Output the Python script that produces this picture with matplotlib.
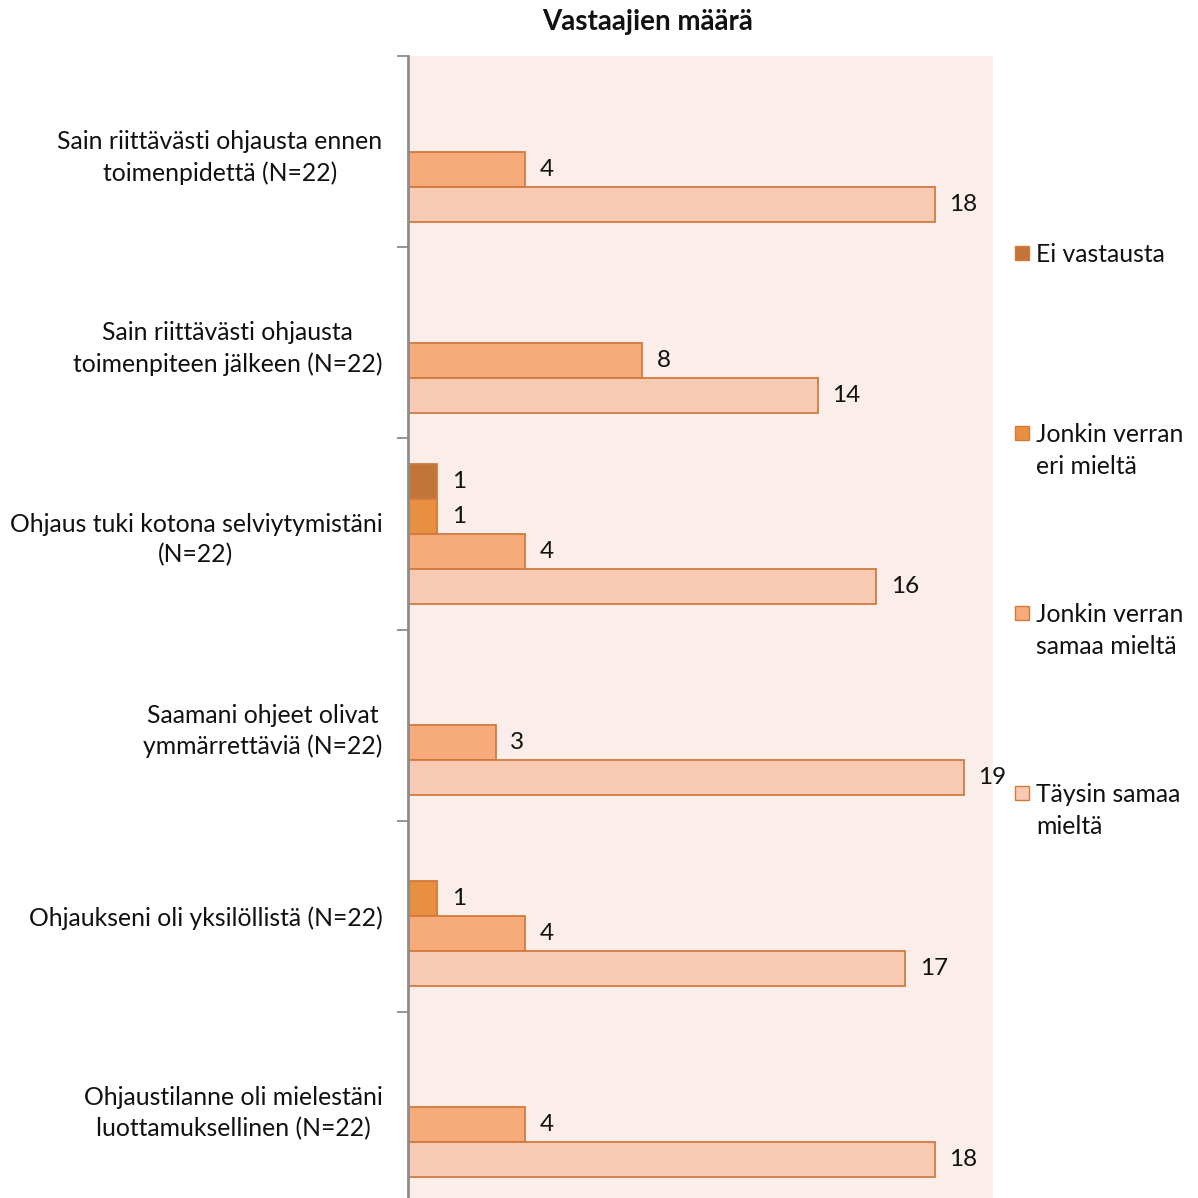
import matplotlib
matplotlib.use("Agg")
import matplotlib.pyplot as plt
from matplotlib.patches import Rectangle
import numpy as np

plt.rcParams['font.family'] = ['Lato', 'DejaVu Sans']

# data
categories = ["Sain riittävästi ohjausta ennen\ntoimenpidettä (N=22)",
              "Sain riittävästi ohjausta\ntoimenpiteen jälkeen (N=22)",
              "Ohjaus tuki kotona selviytymistäni\n(N=22)",
              "Saamani ohjeet olivat\nymmärrettäviä (N=22)",
              "Ohjaukseni oli yksilöllistä (N=22)",
              "Ohjaustilanne oli mielestäni\nluottamuksellinen (N=22)"]
ei_vastausta = [0, 0, 1, 0, 0, 0]
eri_mielta = [0, 0, 1, 0, 1, 0]
samaa_mielta = [4, 8, 4, 3, 4, 4]
taysin_samaa = [18, 14, 16, 19, 17, 18]
series_names = ["Ei vastausta", "Jonkin verran\neri mieltä",
                "Jonkin verran\nsamaa mieltä", "Täysin samaa\nmieltä"]
colors = ["#C27538", "#E8903F", "#F7AB7B", "#F9CAB3"]
edge = "#D27A3E"

series = [ei_vastausta, eri_mielta, samaa_mielta, taysin_samaa]

W = 1198
fig = plt.figure(figsize=(W/100, W/100), dpi=100)
ax = fig.add_axes([408/W, -5/W, (993-408)/W, 1 - 51/W])
ax.set_facecolor("#FBEDE9")

n = len(categories)
centers = np.arange(n) + 0.5
h = 0.183
for j, vals in enumerate(series):
    for i, v in enumerate(vals):
        if v == 0:
            continue
        y = centers[i] + (j - 1.5) * h
        ax.barh(y, v, height=h, color=colors[j], edgecolor=edge, linewidth=1.3)
        ax.text(v + 0.5, y, str(v), va='center', ha='left', fontsize=17.5,
                color="#111111")

ax.set_xlim(0, 20)
ax.set_ylim(n, 0)
ax.set_xticks([])
ax.set_yticks(np.arange(n + 1))
ax.set_yticklabels([])
ax.set_yticks(centers, minor=True)
ax.set_yticklabels(categories, minor=True, fontsize=17.8, color="#111111")
for lbl in ax.get_yticklabels(minor=True):
    lbl.set_multialignment('center')
    lbl.set_linespacing(1.4)
ax.tick_params(axis='y', which='major', length=8, width=1.3, color="#8C8C8C",
               direction='out')
ax.tick_params(axis='y', which='minor', length=0, pad=18.5)
for s in ['top', 'right', 'bottom']:
    ax.spines[s].set_visible(False)
ax.spines['left'].set_color("#8C8C8C")
ax.spines['left'].set_linewidth(2)

fig.text(648/W, 1 - 22/W, "Vastaajien määrä", ha='center', va='center',
         fontsize=20, fontweight='bold', color="#111111")

# legend
for k, name in enumerate(series_names):
    yc = 253 + k * 180
    fig.patches.append(Rectangle((1015/W, 1 - (yc + 7)/W), 14/W, 14/W,
                                 transform=fig.transFigure, facecolor=colors[k],
                                 edgecolor=edge, linewidth=1))
    fig.text(1036/W, 1 - (yc - 10)/W, name, ha='left', va='top',
             fontsize=17.8, color="#111111", linespacing=1.5)

fig.savefig("out.png", dpi=100, facecolor="white")
